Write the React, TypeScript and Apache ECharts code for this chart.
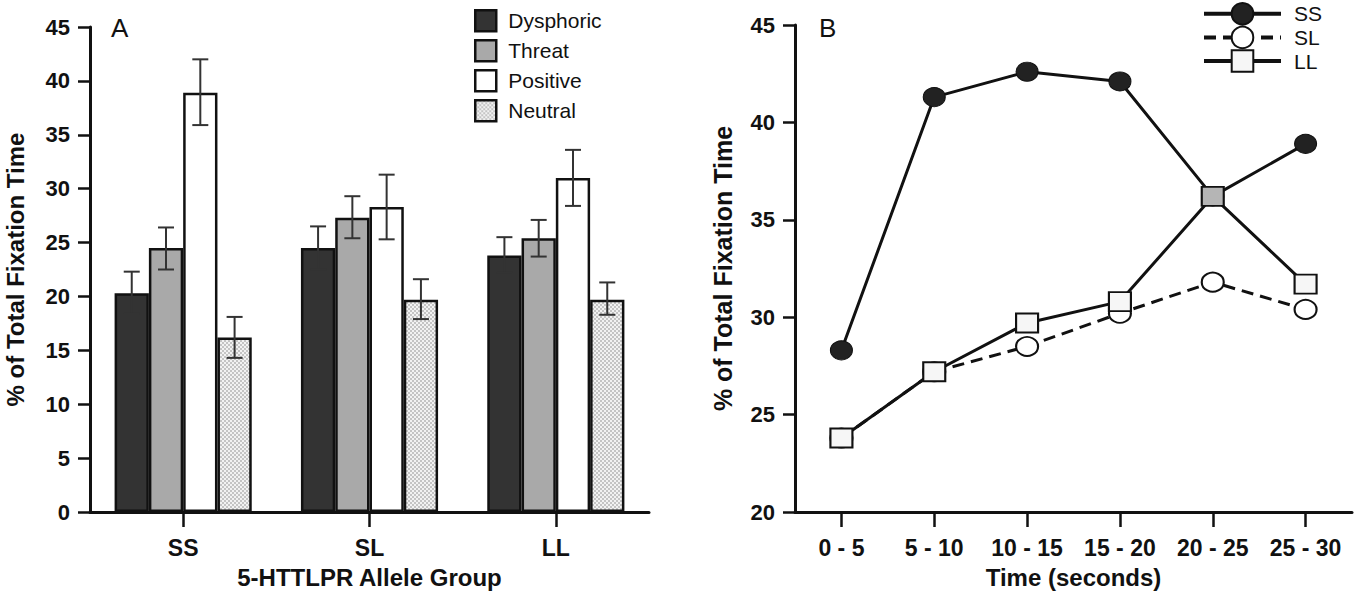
import React, { useEffect, useRef } from "react";
import * as echarts from "echarts";

const FONT = "Liberation Sans, Arial, Helvetica, sans-serif";

// Panel A data
const groups = ["SS", "SL", "LL"];
const emotions = ["Dysphoric", "Threat", "Positive", "Neutral"];
const dysphoric = [20.3, 24.5, 23.8];
const dysphoricHi = [22.3, 26.5, 25.5];
const dysphoricLo = [18.4, 22.5, 22.2];
const threat = [24.5, 27.3, 25.4];
const threatHi = [26.4, 29.3, 27.1];
const threatLo = [22.5, 25.4, 23.7];
const positive = [38.9, 28.3, 31.0];
const positiveHi = [42.0, 31.3, 33.6];
const positiveLo = [35.9, 25.3, 28.4];
const neutral = [16.2, 19.7, 19.7];
const neutralHi = [18.1, 21.6, 21.3];
const neutralLo = [14.3, 17.9, 18.3];

// Panel B data
const timeBins = ["0 - 5", "5 - 10", "10 - 15", "15 - 20", "20 - 25", "25 - 30"];
const ssLine = [28.3, 41.3, 42.6, 42.1, 36.2, 38.9];
const slLine = [23.8, 27.2, 28.5, 30.2, 31.8, 30.4];
const llLine = [23.8, 27.2, 29.7, 30.8, 36.2, 31.7];

const BAR_FRAC = 0.184;

function makeChecker(): string {
  const c = document.createElement("canvas");
  c.width = 4;
  c.height = 4;
  const ctx = c.getContext("2d")!;
  ctx.fillStyle = "#f2f2f2";
  ctx.fillRect(0, 0, 4, 4);
  ctx.fillStyle = "#c4c4c4";
  ctx.fillRect(0, 0, 2, 2);
  ctx.fillRect(2, 2, 2, 2);
  return c.toDataURL();
}

export default function App() {
  const ref = useRef<HTMLDivElement>(null);
  useEffect(() => {
    if (!ref.current) return;
    const chart = echarts.init(ref.current, undefined, { renderer: "svg" });
    const checker = { image: makeChecker(), repeat: "repeat", imageWidth: 4, imageHeight: 4 } as any;

    const barDefs = [
      { name: emotions[0], data: dysphoric, hi: dysphoricHi, lo: dysphoricLo, color: "#333333" },
      { name: emotions[1], data: threat, hi: threatHi, lo: threatLo, color: "#a9a9a9" },
      { name: emotions[2], data: positive, hi: positiveHi, lo: positiveLo, color: "#ffffff" },
      { name: emotions[3], data: neutral, hi: neutralHi, lo: neutralLo, color: checker },
    ];

    const axisLine = { show: true, lineStyle: { color: "#111", width: 3 } };
    const tickStyle = { color: "#111", width: 2.5 };
    const tickLabel = { fontSize: 23, fontWeight: "bold", color: "#111", fontFamily: FONT };
    const nameStyle = { fontSize: 24, fontWeight: "bold", color: "#111", fontFamily: FONT };

    const barSeries = barDefs.map((b) => ({
      type: "bar",
      name: b.name,
      xAxisIndex: 0,
      yAxisIndex: 0,
      data: b.data,
      barWidth: BAR_FRAC * 100 + "%",
      barGap: "0%",
      itemStyle: { color: b.color, borderColor: "#111", borderWidth: 2.5 },
      z: 2,
    }));

    const errSeries = barDefs.map((b, k) => ({
      type: "custom",
      name: b.name + " SE",
      xAxisIndex: 0,
      yAxisIndex: 0,
      data: groups.map((g, i) => [i, b.lo[i], b.hi[i]]),
      encode: { x: 0, y: [1, 2] },
      z: 4,
      renderItem: (params: any, api: any) => {
        const cat = api.value(0);
        const top = api.coord([cat, api.value(2)]);
        const bot = api.coord([cat, api.value(1)]);
        const band = api.size([1, 0])[0];
        const x = top[0] + (k - 1.5) * band * BAR_FRAC;
        const half = 8;
        const st = { stroke: "#333", lineWidth: 2 };
        return {
          type: "group",
          children: [
            { type: "line", shape: { x1: x, y1: top[1], x2: x, y2: bot[1] }, style: st },
            { type: "line", shape: { x1: x - half, y1: top[1], x2: x + half, y2: top[1] }, style: st },
            { type: "line", shape: { x1: x - half, y1: bot[1], x2: x + half, y2: bot[1] }, style: st },
          ],
        };
      },
    }));

    const option: any = {
      animation: false,
      backgroundColor: "#fff",
      textStyle: { fontFamily: FONT },
      grid: [
        { left: 90, top: 27, width: 559, height: 485 },
        { left: 795, top: 25, width: 557, height: 487 },
      ],
      legend: [
        {
          data: emotions,
          orient: "vertical",
          left: 474,
          top: 9,
          padding: 0,
          icon: "rect",
          itemWidth: 21,
          itemHeight: 21,
          itemGap: 6.5,
          itemStyle: { borderColor: "#111", borderWidth: 2.5 },
          textStyle: { fontSize: 21, color: "#111", fontFamily: FONT, padding: [0, 0, 0, 7] },
        },
        {
          data: ["SS", "SL", "LL"],
          orient: "vertical",
          left: 1202,
          top: 2,
          padding: 0,
          itemWidth: 77,
          itemHeight: 27,
          itemGap: 0,
          lineStyle: { width: 4 },
          textStyle: { fontSize: 21, color: "#111", fontFamily: FONT, padding: [0, 0, 0, 8] },
        },
      ],
      xAxis: [
        {
          gridIndex: 0,
          type: "category",
          data: groups,
          axisLine,
          axisTick: { show: true, alignWithLabel: true, length: 15, lineStyle: tickStyle },
          axisLabel: { ...tickLabel, margin: 24, interval: 0 },
          name: "5-HTTLPR Allele Group",
          nameLocation: "middle",
          nameGap: 53,
          nameTextStyle: nameStyle,
        },
        {
          gridIndex: 1,
          type: "category",
          data: timeBins,
          axisLine,
          axisTick: { show: true, alignWithLabel: true, length: 15, interval: 0, lineStyle: tickStyle },
          axisLabel: { ...tickLabel, margin: 24, interval: 0 },
          name: "Time (seconds)",
          nameLocation: "middle",
          nameGap: 53,
          nameTextStyle: nameStyle,
        },
      ],
      yAxis: [
        {
          gridIndex: 0,
          type: "value",
          min: 0,
          max: 45,
          interval: 5,
          splitLine: { show: false },
          axisLine,
          axisTick: { show: true, length: 12, lineStyle: tickStyle },
          axisLabel: { ...tickLabel, fontSize: 22, margin: 20 },
          name: "% of Total Fixation Time",
          nameLocation: "middle",
          nameGap: 63,
          nameTextStyle: nameStyle,
        },
        {
          gridIndex: 1,
          type: "value",
          min: 20,
          max: 45,
          interval: 5,
          splitLine: { show: false },
          axisLine,
          axisTick: { show: true, length: 12, lineStyle: tickStyle },
          axisLabel: { ...tickLabel, fontSize: 22, margin: 20 },
          name: "% of Total Fixation Time",
          nameLocation: "middle",
          nameGap: 60,
          nameTextStyle: { ...nameStyle, fontSize: 25 },
        },
      ],
      graphic: [
        { type: "text", left: 111, top: 15, style: { text: "A", fontSize: 26, fill: "#111", fontFamily: FONT } },
        { type: "text", left: 819, top: 15, style: { text: "B", fontSize: 26, fill: "#111", fontFamily: FONT } },
      ],
      series: [
        ...barSeries,
        ...errSeries,
        {
          type: "line",
          name: "SS",
          xAxisIndex: 1,
          yAxisIndex: 1,
          data: ssLine,
          symbol: "circle",
          symbolSize: [22, 19],
          lineStyle: { color: "#111", width: 3 },
          itemStyle: { color: "#222", borderColor: "#111", borderWidth: 1 },
          z: 3,
        },
        {
          type: "line",
          name: "SL",
          xAxisIndex: 1,
          yAxisIndex: 1,
          data: slLine,
          symbol: "circle",
          symbolSize: [22, 19],
          lineStyle: { color: "#111", width: 3, type: [12, 7] },
          itemStyle: { color: "#ffffff", borderColor: "#111", borderWidth: 2 },
          z: 4,
        },
        {
          type: "line",
          name: "LL",
          xAxisIndex: 1,
          yAxisIndex: 1,
          data: llLine.map((v, i) => (i === 4 ? { value: v, itemStyle: { color: "#b5b5b5" } } : v)),
          symbol: "rect",
          symbolSize: [22, 19],
          lineStyle: { color: "#111", width: 3 },
          itemStyle: { color: "#f6f6f6", borderColor: "#111", borderWidth: 2 },
          z: 5,
        },
      ],
    };
    chart.setOption(option);
    return () => chart.dispose();
  }, []);
  return (
    <div
      ref={ref}
      style={{ position: "fixed", left: 0, top: 0, width: 1358, height: 600, background: "#fff" }}
    />
  );
}
